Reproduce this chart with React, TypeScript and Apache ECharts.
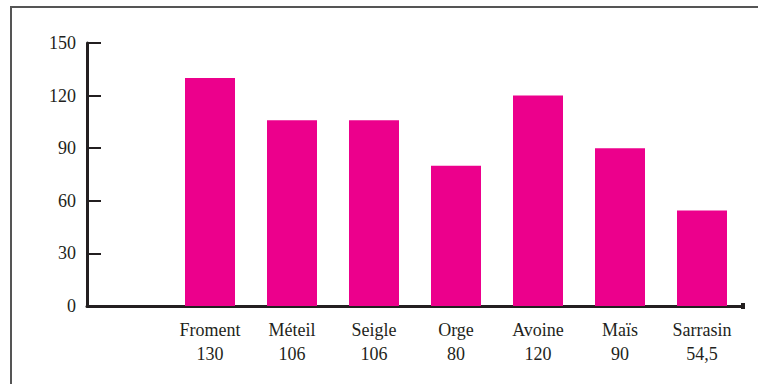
import React, { useEffect, useRef } from "react";
import * as echarts from "echarts";

const categories = ["", "Froment", "Méteil", "Seigle", "Orge", "Avoine", "Maïs", "Sarrasin"];
const values: (number | null)[] = [null, 130, 106, 106, 80, 120, 90, 54.5];
const valueLabels = ["", "130", "106", "106", "80", "120", "90", "54,5"];
const yTicks = { min: 0, max: 150, interval: 30 };

const FONT = "'Liberation Serif', 'DejaVu Serif', serif";
const INK = "#231f20";

export default function App() {
  const ref = useRef<HTMLDivElement>(null);
  useEffect(() => {
    if (!ref.current) return;
    const chart = echarts.init(ref.current, null, { renderer: "svg" });
    chart.setOption({
      animation: false,
      backgroundColor: "#ffffff",
      grid: { left: 87, right: 15, top: 43, bottom: 78, containLabel: false },
      graphic: [
        {
          type: "rect",
          shape: { x: 11, y: 7, width: 800, height: 420 },
          style: { fill: "none", stroke: "#555555", lineWidth: 2 },
          silent: true,
        },
        {
          type: "rect",
          shape: { x: 741, y: 303, width: 4, height: 6 },
          style: { fill: INK },
          silent: true,
        },
      ],
      xAxis: {
        type: "category",
        data: categories,
        axisLine: { show: true, lineStyle: { color: INK, width: 3 } },
        axisTick: { show: false },
        axisLabel: {
          interval: 0,
          margin: 12,
          color: INK,
          fontFamily: FONT,
          fontSize: 18,
          lineHeight: 24,
          formatter: (v: string, i: number) => (v ? v + "\n" + valueLabels[i] : ""),
        },
      },
      yAxis: {
        type: "value",
        min: yTicks.min,
        max: yTicks.max,
        interval: yTicks.interval,
        splitLine: { show: false },
        axisLine: { show: true, lineStyle: { color: INK, width: 3 } },
        axisTick: { show: true, inside: true, length: 14, lineStyle: { color: INK, width: 2 } },
        axisLabel: { color: INK, fontFamily: FONT, fontSize: 18, margin: 11 },
      },
      series: [
        {
          type: "bar",
          data: values,
          barWidth: 50,
          itemStyle: { color: "#EC008C" },
        },
      ],
    });
    return () => chart.dispose();
  }, []);
  return <div ref={ref} style={{ width: 758, height: 384, position: "absolute", left: 0, top: 0 }} />;
}
